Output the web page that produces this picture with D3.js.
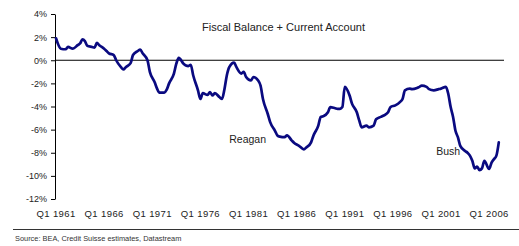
<!DOCTYPE html>
<html>
<head>
<meta charset="utf-8">
<script src="https://cdn.jsdelivr.net/npm/d3@7"></script>
<style>
  body { margin: 0; background: #fff; }
  svg { display: block; font-family: "Liberation Sans", Arial, sans-serif; }
</style>
</head>
<body>
<div id="chart"></div>
<script>
const periods = [
  "1961Q1","1961Q3","1962Q1","1962Q2","1962Q4","1963Q2","1963Q3","1963Q4","1964Q1","1964Q2",
  "1964Q4","1965Q1","1965Q2","1965Q3","1966Q1","1966Q2","1966Q3","1967Q1","1967Q2","1967Q4",
  "1968Q1","1968Q2","1968Q4","1969Q1","1969Q3","1969Q4","1970Q1","1970Q3","1970Q4","1971Q2",
  "1971Q3","1971Q4","1972Q2","1972Q3","1972Q4","1973Q2","1973Q3","1973Q4","1974Q2","1974Q3",
  "1974Q4","1975Q1","1975Q2","1975Q4","1976Q1","1976Q2","1976Q4","1977Q1","1977Q2","1977Q3",
  "1978Q1","1978Q2","1978Q3","1978Q4","1979Q1","1979Q3","1979Q4","1980Q2","1980Q3","1980Q4",
  "1981Q2","1981Q3","1982Q1","1982Q2","1982Q3","1983Q1","1983Q2","1983Q4","1984Q1","1984Q2",
  "1984Q4","1985Q1","1985Q3","1985Q4","1986Q2","1986Q4","1987Q1","1987Q3","1987Q4","1988Q2",
  "1988Q3","1988Q4","1989Q2","1989Q3","1990Q1","1990Q2","1990Q3","1990Q4","1991Q1","1991Q3",
  "1991Q4","1992Q2","1992Q3","1992Q4","1993Q2","1993Q3","1994Q1","1994Q2","1994Q4","1995Q1",
  "1995Q3","1995Q4","1996Q2","1996Q4","1997Q1","1997Q2","1997Q4","1998Q1","1998Q3","1998Q4",
  "1999Q1","1999Q3","1999Q4","2000Q2","2000Q4","2001Q1","2001Q3","2001Q4","2002Q1","2002Q2",
  "2002Q3","2002Q4","2003Q1","2003Q3","2003Q4","2004Q1","2004Q2","2004Q3","2004Q4","2005Q1",
  "2005Q2","2005Q3","2006Q1","2006Q2","2006Q3","2006Q4","2007Q1"
];
const balance = [
  1.9, 1.0, 0.95, 1.15, 1.0, 1.3, 1.45, 1.8, 1.65, 1.25,
  1.15, 1.1, 1.5, 1.3, 1.0, 0.8, 0.6, 0.45, 0.0, -0.6,
  -0.8, -0.6, -0.25, 0.45, 0.8, 0.93, 0.6, 0.0, -1.0, -1.9,
  -2.45, -2.8, -2.8, -2.55, -2.0, -1.15, -0.3, 0.2, -0.3, -0.45,
  -0.5, -0.4, -1.3, -2.6, -3.35, -2.85, -3.0, -2.75, -3.05, -2.85,
  -3.2, -3.35, -2.5, -1.3, -0.6, -0.2, -0.6, -1.15, -1.0, -1.45,
  -1.75, -1.45, -1.75, -2.2, -3.35, -4.65, -5.35, -6.1, -6.5, -6.6,
  -6.65, -6.5, -6.95, -7.15, -7.4, -7.7, -7.55, -7.1, -6.5, -5.65,
  -4.9, -4.85, -4.5, -4.05, -4.15, -4.2, -4.2, -4.05, -2.3, -3.05,
  -3.75, -4.5, -5.2, -5.8, -5.65, -5.8, -5.65, -5.1, -4.9, -4.8,
  -4.5, -4.05, -3.9, -3.6, -3.35, -2.6, -2.45, -2.5, -2.4, -2.3,
  -2.2, -2.3, -2.5, -2.6, -2.5, -2.45, -2.3, -2.9, -4.05, -4.9,
  -6.1, -6.65, -7.4, -7.85, -8.0, -8.25, -8.7, -9.35, -9.2, -9.5,
  -9.35, -8.7, -9.4, -8.85, -8.55, -8.25, -7.1
];
const xTickPeriods = ["1961Q1","1966Q1","1971Q1","1976Q1","1981Q1","1986Q1","1991Q1","1996Q1","2001Q1","2006Q1"];
const yTicks = [4, 2, 0, -2, -4, -6, -8, -10, -12];

const chartTitle = "Fiscal Balance + Current Account";
// label anchors (left edge / baseline) in data units
const notes = [
  { period: "1979Q1", value: -7.15, text: "Reagan" },
  { period: "2000Q3", value: -8.2, text: "Bush" }
];
const sourceText = "Source: BEA, Credit Suisse estimates, Datastream";

const W = 519, H = 246;
const plot = { left: 55, right: 504, top: 14, bottom: 199 };

// "1961Q1" -> quarters since 1961Q1
function qIndex(p) {
  return (+p.slice(0, 4) - 1961) * 4 + (+p.slice(5) - 1);
}

const data = periods.map((p, i) => ({ i: qIndex(p), v: balance[i] }));

const x = d3.scaleLinear().domain([0, 186]).range([56, 503.6]);
const y = d3.scaleLinear().domain([-12, 4]).range([plot.bottom, plot.top]);

const svg = d3.select("#chart").append("svg")
  .attr("width", W)
  .attr("height", H);

// zero line
svg.append("line")
  .attr("x1", plot.left).attr("x2", plot.right)
  .attr("y1", y(0)).attr("y2", y(0))
  .attr("stroke", "#000").attr("stroke-width", 1.1);

// y axis
const yAxis = svg.append("g")
  .attr("transform", `translate(${plot.left},0)`)
  .call(d3.axisLeft(y).tickValues(yTicks).tickSize(4).tickSizeOuter(0)
    .tickFormat(d => d + "%"));
yAxis.select(".domain").attr("stroke", "#000");
yAxis.selectAll(".tick line").attr("stroke", "#000");
yAxis.selectAll(".tick text")
  .attr("x", -8)
  .attr("fill", "#222")
  .style("font-family", "'Liberation Sans', Arial, sans-serif")
  .style("font-size", "9px");

// x labels (no axis line in the original)
svg.append("g")
  .selectAll("text")
  .data(xTickPeriods)
  .join("text")
  .attr("x", d => x(qIndex(d)))
  .attr("y", 217)
  .attr("text-anchor", "middle")
  .attr("fill", "#222")
  .style("font-size", "9.5px")
  .style("letter-spacing", "0.4px")
  .text(d => "Q" + d.slice(5) + " " + d.slice(0, 4));

// the series
const line = d3.line()
  .x(d => x(d.i))
  .y(d => y(d.v))
  .curve(d3.curveMonotoneX);

svg.append("path")
  .datum(data)
  .attr("d", line)
  .attr("fill", "none")
  .attr("stroke", "#0a0a80")
  .attr("stroke-width", 2.7)
  .attr("stroke-linejoin", "round")
  .attr("stroke-linecap", "round");

// title
svg.append("text")
  .attr("x", 202)
  .attr("y", 31)
  .attr("fill", "#222")
  .style("font-size", "11px")
  .text(chartTitle);

// annotations
svg.append("g")
  .selectAll("text")
  .data(notes)
  .join("text")
  .attr("x", d => x(qIndex(d.period)))
  .attr("y", d => y(d.value))
  .attr("fill", "#222")
  .style("font-size", "10.5px")
  .text(d => d.text);

// footer rule + source
svg.append("line")
  .attr("x1", 13).attr("x2", W)
  .attr("y1", 229.5).attr("y2", 229.5)
  .attr("stroke", "#333").attr("stroke-width", 1.2);

svg.append("text")
  .attr("x", 15)
  .attr("y", 241)
  .attr("fill", "#333")
  .style("font-size", "7.4px")
  .text(sourceText);
</script>
</body>
</html>
